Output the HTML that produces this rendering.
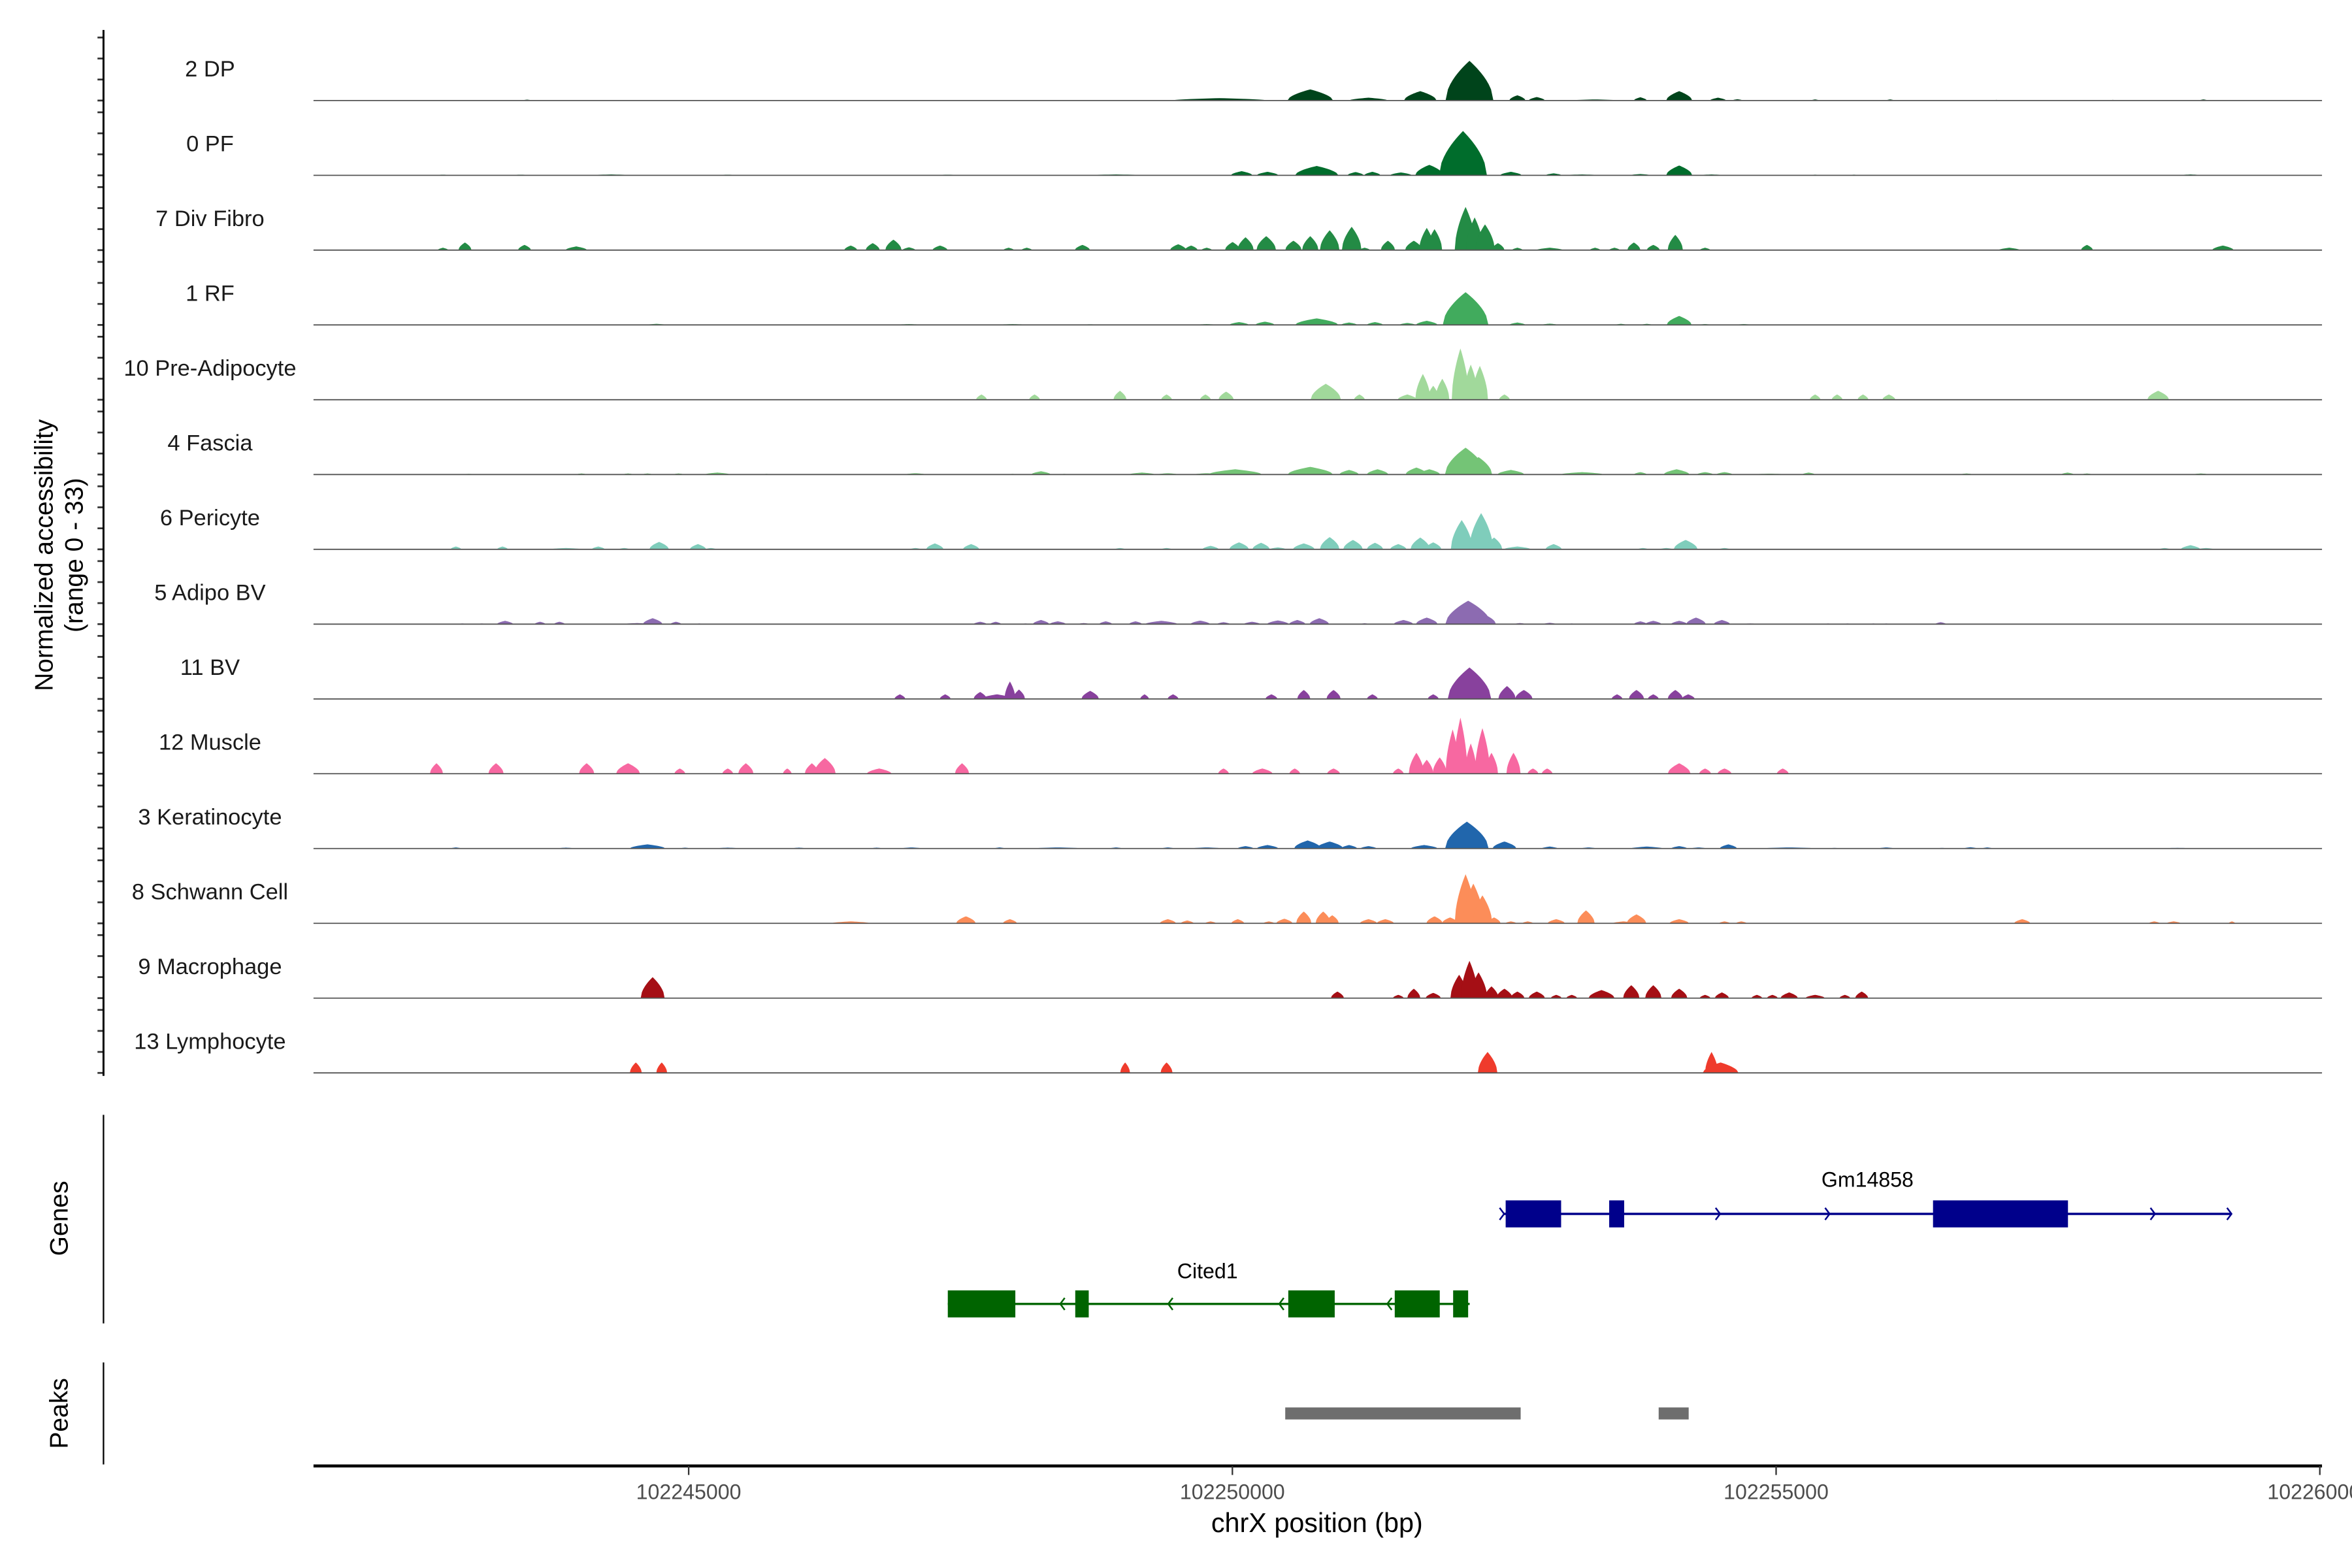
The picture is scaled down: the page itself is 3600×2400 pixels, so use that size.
<!DOCTYPE html>
<html><head><meta charset="utf-8"><style>
html,body{margin:0;padding:0;background:#fff;}
svg{display:block;}
text{font-family:"Liberation Sans",Arial,sans-serif;}
</style></head>
<body>
<svg id="chart" xmlns="http://www.w3.org/2000/svg" width="3600" height="2400" viewBox="0 0 1568 1045" preserveAspectRatio="none">
<rect x="0" y="0" width="1568" height="1045" fill="#fff"/>
<g id="tracks"></g>
<g id="left-axis"></g>
<text transform="translate(35,370) rotate(-90)" text-anchor="middle" font-size="17">Normalized accessibility</text>
<text transform="translate(55,370) rotate(-90)" text-anchor="middle" font-size="17">(range 0 - 33)</text>
<line x1="69" y1="743" x2="69" y2="882" stroke="#000" stroke-width="1"/>
<text transform="translate(45,812) rotate(-90)" text-anchor="middle" font-size="17">Genes</text>
<line x1="69" y1="908" x2="69" y2="976" stroke="#000" stroke-width="1"/>
<text transform="translate(45,942) rotate(-90)" text-anchor="middle" font-size="17">Peaks</text>
<g id="genes"></g>
<g id="peaks"></g>
<g id="xaxis"></g>
<text x="878" y="1021" text-anchor="middle" font-size="18">chrX position (bp)</text>
</svg>
<script>
// ---- data ----
const regionStart = 102241550;
const regionEnd = 102260020;
const xTicks = [102245000, 102250000, 102255000, 102260000];
const trackNames = ["2 DP","0 PF","7 Div Fibro","1 RF","10 Pre-Adipocyte","4 Fascia","6 Pericyte","5 Adipo BV","11 BV","12 Muscle","3 Keratinocyte","8 Schwann Cell","9 Macrophage","13 Lymphocyte"];
const trackColors = ["#00441b","#006d2c","#238b45","#41ab5d","#a1d99b","#74c476","#7fcdbb","#8c6bb1","#88419d","#f768a1","#2166ac","#fc8d59","#a50f15","#ef3b2c"];
const yMax = 33;
// peak positions were read relative to regionStart; calibration of read-out scale
const peakPosCalib = 0.992;
// peaks: [center bp, width bp, value]
const dpPeaks = [[102243530,100,0.4],[102249950,900,1.1],[102250790,420,5.1],[102251330,360,1.3],[102251810,300,4.3],[102252266,440,18.2],[102252710,150,2.4],[102252890,150,1.6],[102253430,480,0.5],[102253850,120,1.5],[102254210,240,4.3],[102254570,150,1.3],[102254750,100,0.6],[102255470,80,0.5],[102256166,80,0.5],[102257150,60,0.3],[102258230,60,0.3],[102259070,80,0.5]];
const pfPeaks = [[102242750,300,0.3],[102243470,400,0.3],[102244310,500,0.4],[102245390,400,0.3],[102247430,500,0.3],[102248990,700,0.4],[102250154,200,1.9],[102250394,200,1.6],[102250850,400,4.3],[102251210,150,1.5],[102251366,150,1.6],[102251630,200,1.3],[102251894,260,4.8],[102252206,440,20.3],[102252650,200,1.6],[102253046,150,0.9],[102253310,450,0.4],[102253850,200,0.6],[102254210,240,4.5],[102254510,300,0.4],[102255470,150,0.3],[102255830,150,0.3],[102258950,250,0.4]];
const divPeaks = [[102242750,100,1.1],[102242954,120,3.5],[102243506,120,2.4],[102243986,200,1.7],[102246530,120,2.1],[102246734,130,3.2],[102246926,150,4.8],[102247070,120,1.3],[102247358,140,2.1],[102247994,100,1.1],[102248162,100,1.1],[102248678,140,2.4],[102249566,150,2.7],[102249686,120,2.1],[102249830,100,1.1],[102250070,140,3.7],[102250190,150,5.9],[102250382,180,6.4],[102250634,150,4.3],[102250790,150,6.4],[102250970,180,9.1],[102251174,180,10.7],[102251294,100,1.1],[102251510,130,4.3],[102251750,160,4.3],[102251870,140,10.2],[102251942,140,9.6],[102252230,200,19.8],[102252314,160,15.0],[102252410,180,11.8],[102252530,120,3.2],[102252710,100,1.1],[102253010,250,1.1],[102253430,100,1.1],[102253610,100,1.1],[102253790,120,3.5],[102253970,120,2.4],[102254174,140,7.0],[102254450,100,1.1],[102257270,200,1.1],[102257990,110,2.4],[102259250,200,2.1]];
const rfPeaks = [[102243350,120,0.2],[102244730,200,0.5],[102247070,250,0.4],[102248030,300,0.4],[102248750,300,0.3],[102249830,200,0.4],[102250130,180,1.3],[102250370,180,1.5],[102250850,400,3.0],[102251150,150,1.1],[102251390,150,1.3],[102251690,150,0.9],[102251870,200,1.9],[102252230,420,15.0],[102252710,150,1.1],[102253010,150,0.6],[102253670,120,0.5],[102253910,120,0.5],[102254210,230,4.1],[102254450,120,0.4],[102254810,150,0.4]];
const preadPeaks = [[102247742,100,2.4],[102248234,100,2.4],[102249026,120,4.1],[102249458,100,2.4],[102249818,100,2.4],[102250010,140,3.7],[102250934,280,7.3],[102251246,100,2.4],[102251690,180,2.4],[102251834,140,11.8],[102251930,110,6.4],[102252014,130,9.6],[102252182,160,23.5],[102252278,140,16.1],[102252362,150,15.5],[102252590,100,2.4],[102255470,100,2.4],[102255674,100,2.4],[102255914,100,2.4],[102256154,120,2.4],[102258650,200,4.1]];
const fasciaPeaks = [[102242990,180,0.3],[102244034,100,0.5],[102244466,100,0.5],[102244646,100,0.5],[102244934,100,0.5],[102245294,240,0.9],[102245750,100,0.3],[102247130,200,0.6],[102248030,100,0.3],[102248294,180,1.5],[102248510,100,0.3],[102249230,250,0.9],[102249470,200,0.6],[102249830,250,0.6],[102250094,500,2.4],[102250790,420,3.5],[102251150,180,2.1],[102251414,200,2.4],[102251774,200,3.2],[102251894,200,2.4],[102252230,380,12.3],[102252350,250,8.0],[102252650,250,2.1],[102253310,400,1.1],[102253850,120,1.1],[102254186,240,2.4],[102254450,150,1.1],[102254630,150,1.1],[102255050,360,0.4],[102255410,120,0.9],[102256874,120,0.5],[102257810,120,0.9],[102257990,100,0.5],[102259046,150,0.5]];
const pericytePeaks = [[102242870,100,1.3],[102243302,100,1.3],[102243890,300,0.6],[102244190,120,1.3],[102244430,100,0.6],[102244754,180,3.4],[102245114,150,2.4],[102245234,100,0.6],[102247130,100,0.6],[102247310,160,2.7],[102247646,150,2.4],[102249026,100,0.6],[102249458,100,0.6],[102249866,150,1.6],[102250130,180,3.2],[102250334,160,3.0],[102250490,150,0.9],[102250730,200,2.7],[102250970,180,5.6],[102251186,180,4.3],[102251390,150,3.0],[102251606,150,2.4],[102251810,180,5.4],[102251930,150,3.2],[102252194,200,13.4],[102252374,220,16.6],[102252494,150,5.4],[102252710,250,1.3],[102253046,150,2.4],[102253874,100,0.6],[102254090,120,0.6],[102254270,220,4.3],[102254630,100,0.6],[102258710,100,0.6],[102258950,180,1.9],[102259094,150,0.6]];
const adipoBvPeaks = [[102242930,100,0.3],[102243110,100,0.3],[102243326,150,1.5],[102243650,100,1.1],[102243830,100,1.1],[102244550,250,0.5],[102244694,180,2.7],[102244910,100,1.1],[102245126,80,0.3],[102247730,120,1.1],[102247874,100,1.1],[102248150,100,0.3],[102248294,150,1.9],[102248450,150,1.3],[102248690,100,0.5],[102248894,120,1.3],[102249170,120,1.3],[102249410,300,1.5],[102249770,180,1.6],[102249986,120,0.9],[102250250,150,1.1],[102250490,200,1.7],[102250670,150,1.9],[102250874,180,2.7],[102251294,80,0.4],[102251654,180,1.9],[102251870,200,3.0],[102252254,420,10.7],[102252410,200,4.3],[102252734,100,0.5],[102253010,120,0.6],[102253214,80,0.3],[102253850,120,1.3],[102253970,150,1.5],[102254210,150,1.5],[102254366,180,3.0],[102254606,150,1.9],[102254870,240,0.3],[102255590,80,0.3],[102255770,80,0.3],[102256010,80,0.3],[102256130,80,0.3],[102256634,100,0.9]];
const bvPeaks = [[102246986,100,2.1],[102247406,100,2.1],[102247730,120,3.2],[102247886,300,2.1],[102248006,100,8.0],[102248090,110,4.3],[102248750,160,3.7],[102249254,80,2.1],[102249518,100,2.1],[102250430,110,2.1],[102250730,120,4.1],[102251006,130,4.1],[102251366,100,2.1],[102251930,100,2.1],[102252266,400,14.4],[102252614,160,5.9],[102252770,160,4.1],[102253634,100,2.1],[102253814,140,4.1],[102253970,100,2.1],[102254174,140,4.1],[102254294,120,2.1]];
const musclePeaks = [[102242690,120,4.8],[102243242,140,4.8],[102244082,140,4.8],[102244466,220,4.8],[102244946,100,2.4],[102245390,100,2.4],[102245558,140,4.8],[102245942,80,2.4],[102246170,130,4.8],[102246290,200,7.2],[102246794,230,2.4],[102247562,130,4.8],[102249986,100,2.4],[102250346,190,2.4],[102250646,100,2.4],[102251006,120,2.4],[102251606,100,2.4],[102251774,140,9.6],[102251870,120,6.4],[102251990,130,7.5],[102252110,130,20.3],[102252182,130,25.7],[102252278,110,13.9],[102252386,140,20.9],[102252470,120,9.6],[102252674,130,9.6],[102252854,100,2.4],[102252986,100,2.4],[102254210,210,4.8],[102254450,110,2.4],[102254630,130,2.4],[102255170,110,2.4]];
const keratPeaks = [[102242870,100,0.5],[102243890,180,0.4],[102244646,330,1.9],[102244994,100,0.4],[102245390,250,0.4],[102246050,150,0.4],[102246770,120,0.4],[102247094,200,0.5],[102247910,100,0.5],[102248450,480,0.5],[102248990,120,0.5],[102249470,120,0.5],[102249830,300,0.5],[102250190,150,1.1],[102250394,200,1.6],[102250766,250,3.7],[102250970,250,3.2],[102251150,150,1.6],[102251330,150,1.1],[102251846,250,1.6],[102252242,400,12.3],[102252590,220,3.2],[102253010,150,0.9],[102253370,150,0.5],[102253910,300,0.9],[102254210,150,1.1],[102254390,150,0.5],[102254666,160,1.9],[102255230,540,0.5],[102255650,100,0.3],[102256130,150,0.5],[102256646,100,0.3],[102256910,120,0.6],[102257066,100,0.5],[102258830,360,0.3]];
const schwannPeaks = [[102246530,360,0.9],[102247598,180,3.2],[102248006,130,1.9],[102249470,150,1.9],[102249650,120,1.3],[102249866,100,0.9],[102250118,120,1.9],[102250406,100,0.9],[102250550,150,2.1],[102250730,140,5.4],[102250910,140,5.4],[102250994,120,3.7],[102251330,160,1.9],[102251486,160,1.9],[102251942,150,3.2],[102252086,150,2.7],[102252230,200,22.5],[102252302,200,18.2],[102252386,180,12.8],[102252494,120,2.7],[102252650,100,0.9],[102252806,100,0.9],[102253070,160,1.9],[102253346,160,5.9],[102253694,200,0.9],[102253814,180,4.1],[102254210,180,1.9],[102254630,100,0.9],[102254786,100,0.9],[102257390,150,1.9],[102258614,100,0.9],[102258794,130,0.9],[102259334,60,0.9]];
const macroPeaks = [[102244694,220,9.6],[102251042,120,3.0],[102251606,100,1.5],[102251750,120,4.3],[102251930,140,2.4],[102252170,160,10.7],[102252266,160,17.1],[102252350,160,11.8],[102252470,130,5.4],[102252590,150,4.3],[102252710,130,3.0],[102252890,150,3.0],[102253070,100,1.5],[102253214,100,1.5],[102253490,240,3.7],[102253766,150,5.9],[102253970,150,5.9],[102254210,150,4.3],[102254450,100,1.5],[102254606,130,2.6],[102254930,100,1.5],[102255074,100,1.5],[102255230,160,2.6],[102255470,180,1.5],[102255746,100,1.5],[102255902,120,3.0]];
const lymphPeaks = [[102244538,110,4.8],[102244778,100,4.8],[102249074,90,4.8],[102249458,110,4.8],[102252434,180,9.6],[102254510,120,9.6],[102254594,330,4.8]];
const trackPeaks = [dpPeaks,pfPeaks,divPeaks,rfPeaks,preadPeaks,fasciaPeaks,pericytePeaks,adipoBvPeaks,bvPeaks,musclePeaks,keratPeaks,schwannPeaks,macroPeaks,lymphPeaks];
// genes
const gmExons = [[102252513,102253023],[102253465,102253603],[102256443,102257684]];
const gmSpan = [102252499,102259188];
const gmArrows = [102252499,102253520,102254485,102255492,102258484,102259188];
const citedExons = [[102247383,102248004],[102248555,102248679],[102250514,102250941],[102251493,102251907],[102252030,102252168]];
const citedSpan = [102247383,102252182];
const citedArrows = [102248417,102249410,102250431,102251424];
const peakRegions = [[102250486,102252651],[102253920,102254196]];

// ---- layout ----
const NS = "http://www.w3.org/2000/svg";
const plotL = 209, plotR = 1548;
const trackTop0 = 67, trackStep = 49.85, trackH = 48;
function xScale(bp){ return plotL + (bp - regionStart) / (regionEnd - regionStart) * (plotR - plotL); }
function yScale(v, base){ return base - v / yMax * trackH; }
function mk(tag, attrs, parent){ const e=document.createElementNS(NS,tag); for(const k in attrs) e.setAttribute(k,attrs[k]); parent.appendChild(e); return e; }

const tracksG = document.getElementById('tracks');
const axisG = document.getElementById('left-axis');
trackNames.forEach((name, i) => {
  const base = trackTop0 + i * trackStep;
  const g = mk('g', {}, tracksG);
  
  
  trackPeaks[i].forEach(p => {
    const c = regionStart + (p[0] - regionStart) * peakPosCalib, w = p[1], v = p[2];
    const pts = [];
    for (let k = 0; k <= 20; k++) {
      const t = -1 + k / 10;
      const f = k === 0 || k === 20 ? 0 : Math.pow(1 - Math.abs(t), 0.55);
      pts.push(xScale(c + t * w / 2).toFixed(2) + ',' + yScale(v * f, base).toFixed(2));
    }
    const poly = mk('polygon', {points: pts.join(' '), fill: trackColors[i]}, g);
    
    
  });
  const bl = mk('line', {x1: plotL, y1: base, x2: plotR, y2: base, stroke: '#555', 'stroke-width': 0.8}, g);
  
  
  const lb = mk('text', {x: 140, y: base - 16, 'text-anchor': 'middle', 'font-size': 15, fill: '#1a1a1a'}, g);
  lb.textContent = name;
  
  
  for (let k = 0; k < 4; k++) {
    const ty = base - k * 14;
    const tk = mk('line', {x1: 65, y1: ty, x2: 69, y2: ty, stroke: '#333', 'stroke-width': 1.2}, axisG);
    
    
  }
});
const yl = mk('line', {x1: 69, y1: 20, x2: 69, y2: 717, stroke: '#000', 'stroke-width': 1.3}, axisG);



// genes
const genesG = document.getElementById('genes');
function drawGene(name, span, exons, arrows, y, color, dir, labelX, labelY){
  const g = mk('g', {}, genesG);
  
  
  const ln = mk('line', {x1: xScale(span[0]), y1: y, x2: xScale(span[1]), y2: y, stroke: color, 'stroke-width': 1.5}, g);
  
  
  exons.forEach(e => {
    const r = mk('rect', {x: xScale(e[0]), y: y - 9, width: xScale(e[1]) - xScale(e[0]), height: 18, fill: color}, g);
    
    
  });
  arrows.forEach(a => {
    const ax = xScale(a);
    const d = dir > 0 ? `M${ax-3},${y-4} L${ax},${y} L${ax-3},${y+4}` : `M${ax+3},${y-4} L${ax},${y} L${ax+3},${y+4}`;
    const ar = mk('path', {d: d, fill: 'none', stroke: color, 'stroke-width': 1.1}, g);
    
    
  });
  const t = mk('text', {x: labelX, y: labelY, 'text-anchor': 'middle', 'font-size': 14, fill: '#000'}, g);
  t.textContent = name;
  
  
}
drawGene('Gm14858', gmSpan, gmExons, gmArrows, 809, '#00008b', 1, 1245, 791);
drawGene('Cited1', citedSpan, citedExons, citedArrows, 869, '#006400', -1, 805, 852);

// peaks
const peaksG = document.getElementById('peaks');
peakRegions.forEach(p => {
  const r = mk('rect', {x: xScale(p[0]), y: 938, width: xScale(p[1]) - xScale(p[0]), height: 8, fill: '#6e6e6e'}, peaksG);
  
  
});

// x axis
const xg = document.getElementById('xaxis');
const xl = mk('line', {x1: plotL, y1: 977, x2: plotR, y2: 977, stroke: '#000', 'stroke-width': 2}, xg);


xTicks.forEach(t => {
  const x = xScale(t);
  const tk = mk('line', {x1: x, y1: 977, x2: x, y2: 983, stroke: '#333', 'stroke-width': 1}, xg);
  
  
  const tl = mk('text', {x: x, y: 999, 'text-anchor': 'middle', 'font-size': 14, fill: '#4d4d4d'}, xg);
  tl.textContent = String(t);
  
  
});
</script>
</body></html>
